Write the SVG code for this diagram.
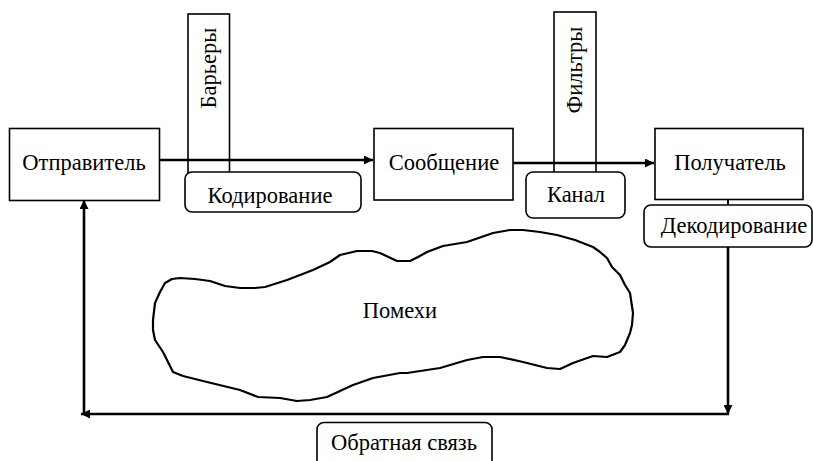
<svg xmlns="http://www.w3.org/2000/svg" width="813" height="461" viewBox="0 0 813 461">
<defs>
<style>
.box{fill:#fff;stroke:#000;stroke-width:1.6}
.rbox{fill:#fff;stroke:#000;stroke-width:1.6}
.col{fill:#fff;stroke:#000;stroke-width:1.6}
.t{font-family:"Liberation Serif",serif;font-size:22.5px;fill:#000;text-anchor:middle}
.arr{fill:none;stroke:#000;stroke-width:2.6}
.thin{fill:none;stroke:#000;stroke-width:2}
.blob{fill:#fff;stroke:#000;stroke-width:2.2;stroke-linejoin:round}
</style>
<marker id="ah" viewBox="0 0 10 10" refX="10" refY="5" markerWidth="10" markerHeight="9" markerUnits="userSpaceOnUse" orient="auto">
<path d="M0,0 L10,5 L0,10 Z" fill="#000"/>
</marker>
</defs>
<rect width="813" height="461" fill="#fff"/>
<g id="barriers">
<rect class="col" x="188" y="14" width="41.5" height="160"/>
<text class="t" transform="translate(216,68) rotate(-90)">Барьеры</text>
</g>
<g id="filters">
<rect class="col" x="554" y="12" width="42" height="162"/>
<text class="t" transform="translate(582,70) rotate(-90)">Фильтры</text>
</g>

<g id="noise">
<path class="blob" d="M153,320 L155,303 L160,292 L165,283 L172,279 L180,278 L195,279 L210,281 L225,286 L240,288 L255,288 L265,287 L287,280 L313,270 L330,262 L340,255 L357,251 L372,251 L380,253 L397,261 L410,261 L418,257 L427,252 L443,246 L467,242 L493,233 L510,230 L523,230 L540,232 L557,235 L575,240 L593,247 L600,252 L607,258 L612,267 L620,275 L625,285 L630,293 L633,313 L632,325 L630,333 L625,345 L620,352 L607,357 L593,356 L573,363 L560,369 L547,368 L523,362 L500,357 L483,357 L467,360 L440,368 L407,373 L400,373 L373,378 L353,385 L327,397 L310,400 L297,401 L280,398 L258,397 L240,390 L207,382 L183,376 L173,372 L163,352 L155,340 L153,330 Z"/>
<text class="t" x="400" y="318">Помехи</text>
</g>

<g id="connectors">
<line class="arr" x1="159.5" y1="160" x2="373" y2="160" marker-end="url(#ah)"/>
<line class="arr" x1="513" y1="163" x2="654" y2="163" marker-end="url(#ah)"/>
<line class="thin" x1="728" y1="199" x2="728" y2="205"/>
<line class="arr" x1="728" y1="247" x2="728" y2="414" marker-end="url(#ah)"/>
<line class="arr" x1="729" y1="414" x2="81" y2="414" marker-end="url(#ah)"/>
<line class="arr" x1="84" y1="415" x2="84" y2="200" marker-end="url(#ah)"/>
</g>

<g id="sender">
<rect class="box" x="9.5" y="128.5" width="150" height="72"/>
<text class="t" x="84" y="170">Отправитель</text>
</g>
<g id="message">
<rect class="box" x="374" y="128.5" width="139" height="71.5"/>
<text class="t" x="444" y="170">Сообщение</text>
</g>
<g id="receiver">
<rect class="box" x="655" y="128.5" width="148" height="71"/>
<text class="t" x="730" y="170">Получатель</text>
</g>
<g id="encoding">
<rect class="rbox" x="185" y="172" width="176" height="40" rx="7"/>
<text class="t" x="270" y="203">Кодирование</text>
</g>
<g id="channel">
<rect class="rbox" x="526" y="172" width="99" height="46" rx="7"/>
<text class="t" x="576" y="202">Канал</text>
</g>
<g id="decoding">
<rect class="rbox" x="644" y="205" width="168" height="42" rx="7"/>
<text class="t" x="734" y="233">Декодирование</text>
</g>
<g id="feedback">
<rect class="rbox" x="317" y="422.5" width="175" height="50" rx="7"/>
<text class="t" x="404" y="450">Обратная связь</text>
</g>
</svg>
